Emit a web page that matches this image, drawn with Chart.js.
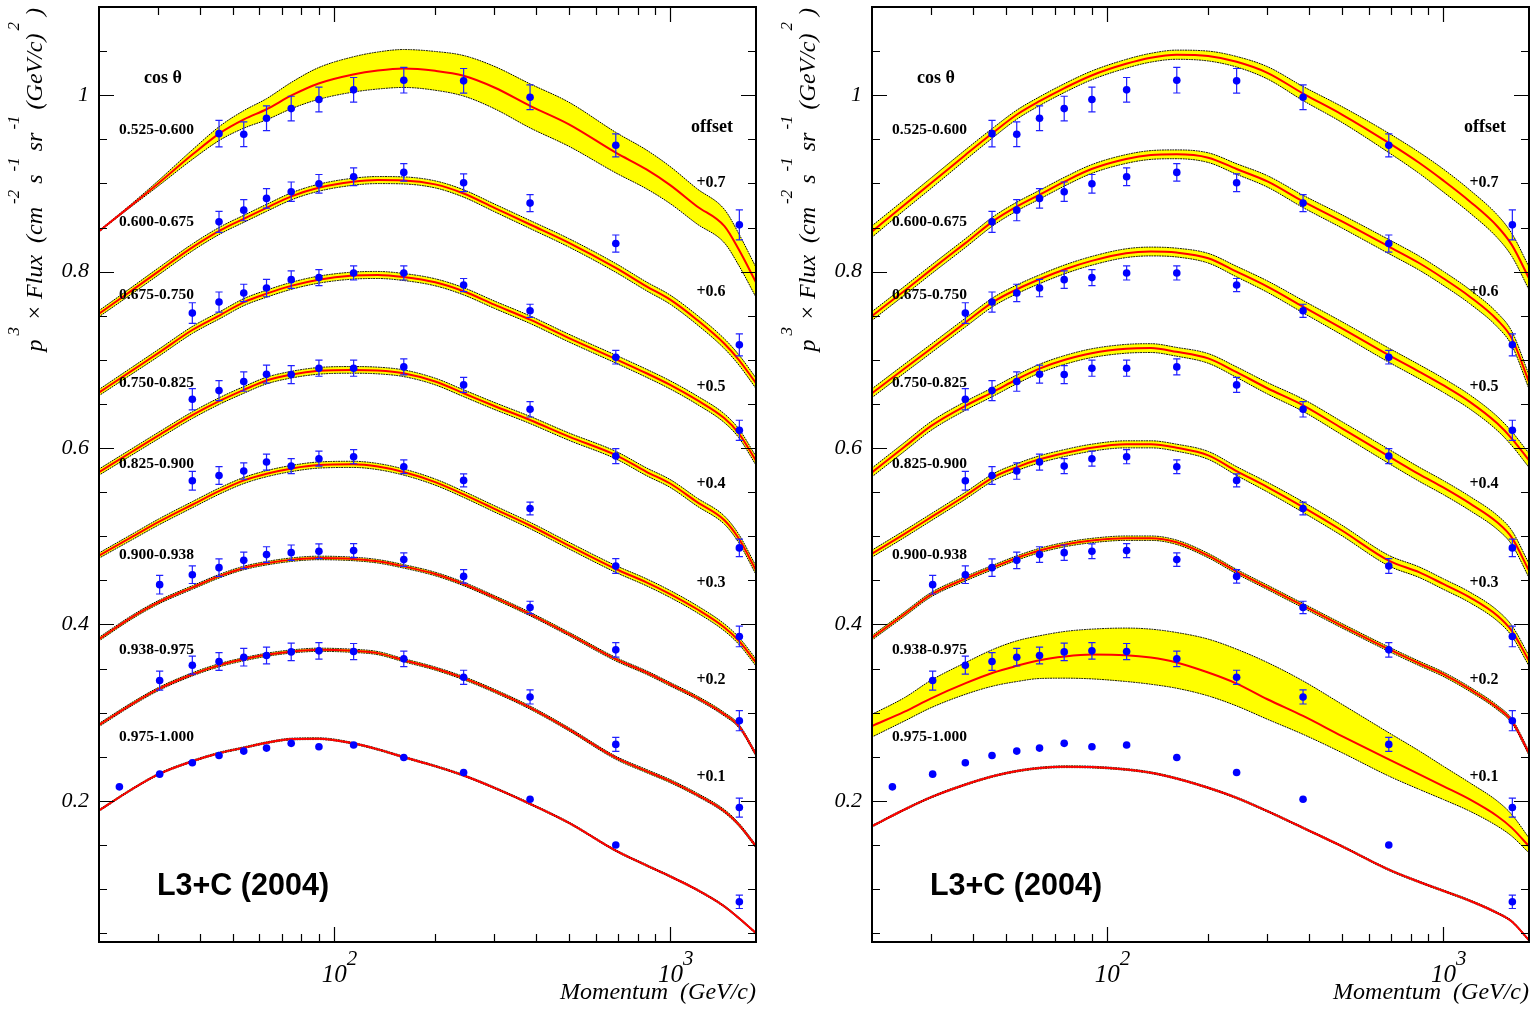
<!DOCTYPE html>
<html><head><meta charset="utf-8">
<script src="https://cdn.jsdelivr.net/npm/chart.js@4.4.1/dist/chart.umd.min.js"></script>
<style>
html,body{margin:0;padding:0;background:#fff;overflow:hidden;width:1539px;height:1010px;}
canvas{position:absolute;top:0;}
#cL{left:0;} #cR{left:773px;}
</style></head><body>
<canvas id="cL" width="770" height="1010"></canvas>
<canvas id="cR" width="766" height="1010"></canvas>
<script>
// ---------------- DATA ----------------
const cosBins = ['0.525-0.600','0.600-0.675','0.675-0.750','0.750-0.825','0.825-0.900','0.900-0.938','0.938-0.975','0.975-1.000'];
const offsetLabels = ['+0.7','+0.6','+0.5','+0.4','+0.3','+0.2','+0.1'];
const yTickValues = [0.2, 0.4, 0.6, 0.8, 1.0];
const yTickLabels = ['0.2', '0.4', '0.6', '0.8', '1'];
const xTickValues = [100, 1000];
const xTickBase = ['10', '10'];
const xTickExp = ['2', '3'];
const xMinorTicks = [30,40,50,60,70,80,90,200,300,400,500,600,700,800,900];
const xTitle = 'Momentum  (GeV/c)';
const tagText = 'L3+C (2004)';

// measured momenta (GeV/c)
const dataMomentum = [23.0, 30.3, 37.9, 45.5, 53.9, 63.0, 74.6, 90.2, 114.4, 161.3, 243, 383, 689, 1606];
// p^3 x flux + offset, per cos(theta) bin
const S1 = [null,null,null,0.9564,0.9557,0.9739,0.9848,0.9951,1.0061,1.0170,1.0163,0.9977,0.9432,0.8530];
const S2 = [null,null,null,0.8564,0.8697,0.8830,0.8906,0.8996,0.9076,0.9125,0.9008,0.8777,0.8318,0.7170];
const S3 = [null,null,0.7530,0.7655,0.7758,0.7814,0.7909,0.7932,0.7985,0.7985,0.7848,0.7556,0.7030,0.6201];
const S4 = [null,null,0.6553,0.6651,0.6754,0.6837,0.6833,0.6905,0.6905,0.6920,0.6716,0.6439,0.5909,0.4868];
const S5 = [null,null,0.5629,0.5689,0.5739,0.5841,0.5795,0.5879,0.5902,0.5788,0.5633,0.5314,0.4663,0.3864];
const S6 = [null,0.4451,0.4564,0.4644,0.4727,0.4792,0.4814,0.4830,0.4837,0.4735,0.4545,0.4193,0.3712,0.2909];
const S7 = [null,0.3364,0.3538,0.3580,0.3629,0.3648,0.3689,0.3701,0.3693,0.3610,0.3401,0.3178,0.2640,0.1924];
const S8 = [0.2159,0.2303,0.2432,0.2515,0.2564,0.2598,0.2652,0.2614,0.2633,0.2492,0.2322,0.2019,0.1500,0.0856];
// errors
const E1 = [null,null,null,0.015,0.014,0.014,0.014,0.014,0.014,0.0145,0.014,0.014,0.013,0.017];
const E2 = [null,null,null,0.012,0.012,0.011,0.011,0.0105,0.010,0.010,0.010,0.0097,0.0097,0.0125];
const E3 = [null,null,0.0117,0.0114,0.0099,0.0099,0.0099,0.0091,0.008,0.008,0.0074,0.0074,0.0077,0.0114];
const E4 = [null,null,0.012,0.0114,0.011,0.0102,0.0102,0.0091,0.0091,0.0091,0.0085,0.0087,0.0085,0.0099];
const E5 = [null,null,0.0106,0.010,0.0093,0.0091,0.0085,0.0085,0.008,0.0077,0.0074,0.0072,0.0083,0.0117];
const E6 = [null,0.0106,0.010,0.0099,0.0094,0.0089,0.0087,0.0083,0.008,0.0076,0.0076,0.007,0.0083,0.0114];
const E7 = [null,0.0108,0.0102,0.010,0.010,0.0094,0.0099,0.0093,0.0091,0.0087,0.008,0.008,0.008,0.0108];
const E8 = [0.002,0.002,0.002,0.002,0.002,0.002,0.002,0.002,0.002,0.002,0.002,0.002,0.0051,0.0076];

// model curves, sampled at these momenta
const momentumGrid = [20,25,30,38,46,54,63,75,90,114,135,161,200,243,300,383,500,689,850,1000,1200,1450,1600,1800];
// left panel model (central value)
const L1 = [0.8458,0.8754,0.9000,0.9330,0.9576,0.9727,0.9841,1.0000,1.0133,1.0235,1.0280,1.0303,1.0276,1.0220,1.0087,0.9879,0.9670,0.9349,0.9159,0.8981,0.8742,0.8515,0.8250,0.7879];
const L2 = [0.7523,0.7784,0.8000,0.8277,0.8470,0.8600,0.8723,0.8856,0.8951,0.9019,0.9038,0.9034,0.8989,0.8886,0.8723,0.8534,0.8326,0.8042,0.7833,0.7682,0.7455,0.7182,0.7000,0.6735];
const L3 = [0.6629,0.6875,0.7076,0.7341,0.7511,0.7655,0.7750,0.7841,0.7909,0.7955,0.7962,0.7939,0.7879,0.7777,0.7625,0.7455,0.7246,0.7008,0.6848,0.6716,0.6545,0.6337,0.6167,0.5856];
const L4 = [0.5727,0.5955,0.6140,0.6375,0.6540,0.6660,0.6765,0.6833,0.6875,0.6886,0.6879,0.6848,0.6754,0.6621,0.6477,0.6318,0.6129,0.5920,0.5731,0.5598,0.5390,0.5182,0.4974,0.4614];
const L5 = [0.4781,0.4989,0.5159,0.5360,0.5519,0.5633,0.5709,0.5769,0.5807,0.5815,0.5790,0.5728,0.5614,0.5475,0.5311,0.5122,0.4894,0.4629,0.4478,0.4345,0.4175,0.3966,0.3815,0.3569];
const L6 = [0.3834,0.4080,0.4250,0.4421,0.4553,0.4641,0.4694,0.4735,0.4754,0.4743,0.4716,0.4659,0.4572,0.4459,0.4307,0.4118,0.3891,0.3606,0.3455,0.3322,0.3171,0.2981,0.2849,0.2527];
const L7 = [0.2860,0.3095,0.3266,0.3436,0.3542,0.3606,0.3656,0.3694,0.3713,0.3701,0.3675,0.3595,0.3500,0.3391,0.3247,0.3057,0.2811,0.2489,0.2338,0.2224,0.2072,0.1883,0.1731,0.1485];
const L8 = [0.1891,0.2129,0.2300,0.2451,0.2546,0.2603,0.2659,0.2701,0.2705,0.2652,0.2584,0.2497,0.2394,0.2288,0.2148,0.1966,0.1750,0.1436,0.1269,0.1144,0.0993,0.0803,0.0671,0.0500];
// left panel model uncertainty (half width)
const L1w = [0.0008,0.0015,0.003,0.0055,0.008,0.010,0.012,0.015,0.018,0.020,0.021,0.0215,0.022,0.023,0.024,0.025,0.025,0.023,0.022,0.021,0.020,0.019,0.018,0.017];
const L2w = [0.0035,0.0038,0.004,0.004,0.004,0.004,0.004,0.004,0.004,0.004,0.004,0.004,0.004,0.0042,0.0044,0.0046,0.0048,0.005,0.005,0.0052,0.0054,0.0056,0.0058,0.006];
const L3w = [0.0035,0.0038,0.004,0.004,0.004,0.004,0.004,0.004,0.004,0.004,0.004,0.004,0.004,0.0041,0.0042,0.0043,0.0044,0.0045,0.0046,0.0047,0.0048,0.005,0.005,0.005];
const L4w = [0.0035,0.0036,0.0037,0.0038,0.0038,0.0038,0.0038,0.0038,0.0038,0.0038,0.0038,0.0038,0.0038,0.0039,0.004,0.0041,0.0042,0.0043,0.0044,0.0045,0.0046,0.0047,0.0048,0.0048];
const L5w = [0.003,0.0032,0.0034,0.0035,0.0035,0.0035,0.0035,0.0035,0.0035,0.0035,0.0035,0.0035,0.0035,0.0035,0.0036,0.0037,0.0038,0.0039,0.004,0.004,0.004,0.004,0.004,0.004];
const L6w = [0.002,0.002,0.002,0.002,0.002,0.002,0.002,0.002,0.002,0.002,0.002,0.002,0.002,0.002,0.002,0.002,0.002,0.002,0.002,0.002,0.002,0.002,0.002,0.002];
const L7w = [0.0018,0.0018,0.0018,0.0018,0.0018,0.0018,0.0018,0.0018,0.0018,0.0018,0.0018,0.0018,0.0018,0.0018,0.0018,0.0018,0.0018,0.0018,0.0018,0.0018,0.0018,0.0018,0.0018,0.0018];
const L8w = [0.001,0.001,0.001,0.001,0.001,0.001,0.001,0.001,0.001,0.001,0.001,0.001,0.001,0.001,0.001,0.001,0.001,0.001,0.001,0.001,0.001,0.001,0.001,0.001];
// right panel model (central value)
const R1 = [0.8455,0.8758,0.9004,0.9326,0.9580,0.9781,0.9932,1.0084,1.0224,1.0356,1.0425,1.0459,1.0444,1.0379,1.0254,1.0019,0.9781,0.9459,0.9231,0.9034,0.8796,0.8512,0.8303,0.7925];
const R2 = [0.7497,0.7784,0.8023,0.8326,0.8576,0.8739,0.8872,0.9023,0.9163,0.9277,0.9322,0.9330,0.9292,0.9163,0.9023,0.8796,0.8569,0.8284,0.8095,0.7925,0.7716,0.7451,0.7243,0.6750];
const R3 = [0.6622,0.6902,0.7129,0.7425,0.7659,0.7800,0.7913,0.8027,0.8122,0.8209,0.8228,0.8216,0.8152,0.8000,0.7830,0.7603,0.7357,0.7053,0.6864,0.6712,0.6523,0.6277,0.6107,0.5860];
const R4 = [0.5724,0.6014,0.6251,0.6480,0.6640,0.6780,0.6900,0.7000,0.7075,0.7125,0.7133,0.7091,0.7016,0.6860,0.6678,0.6485,0.6224,0.5906,0.5701,0.5553,0.5372,0.5156,0.4985,0.4610];
const R5 = [0.4803,0.5027,0.5216,0.5462,0.5671,0.5784,0.5872,0.5944,0.6004,0.6042,0.6042,0.6004,0.5917,0.5739,0.5557,0.5330,0.5065,0.4724,0.4591,0.4459,0.4307,0.4099,0.3928,0.3588];
const R6 = [0.3849,0.4118,0.4338,0.4520,0.4650,0.4754,0.4838,0.4906,0.4951,0.4978,0.4978,0.4932,0.4781,0.4599,0.4421,0.4213,0.3985,0.3720,0.3557,0.3436,0.3266,0.3057,0.2906,0.2542];
const R7 = [0.2849,0.3012,0.3163,0.3334,0.3455,0.3531,0.3595,0.3637,0.3659,0.3652,0.3625,0.3569,0.3455,0.3330,0.3152,0.2963,0.2735,0.2470,0.2300,0.2167,0.2016,0.1826,0.1694,0.1485];
const R8 = [0.1713,0.1902,0.2042,0.2186,0.2281,0.2338,0.2372,0.2387,0.2383,0.2356,0.2319,0.2254,0.2148,0.2034,0.1883,0.1694,0.1485,0.1220,0.1080,0.0981,0.0868,0.0728,0.0633,0.0420];
// right panel model uncertainty
const R1w = [0.0065,0.006,0.006,0.0058,0.0055,0.0052,0.005,0.005,0.005,0.005,0.005,0.0052,0.0056,0.006,0.007,0.008,0.009,0.011,0.012,0.013,0.013,0.013,0.013,0.013];
const R2w = [0.005,0.005,0.005,0.005,0.005,0.005,0.005,0.005,0.005,0.005,0.005,0.005,0.0055,0.006,0.0065,0.007,0.0075,0.008,0.008,0.008,0.008,0.008,0.008,0.008];
const R3w = [0.005,0.005,0.005,0.005,0.005,0.005,0.005,0.005,0.005,0.005,0.005,0.005,0.0055,0.006,0.0065,0.007,0.0075,0.008,0.008,0.008,0.008,0.008,0.008,0.008];
const R4w = [0.005,0.005,0.005,0.005,0.005,0.005,0.005,0.005,0.005,0.005,0.005,0.005,0.0055,0.006,0.0065,0.007,0.0075,0.008,0.008,0.008,0.008,0.008,0.008,0.008];
const R5w = [0.004,0.004,0.004,0.004,0.004,0.004,0.004,0.004,0.004,0.004,0.004,0.004,0.0045,0.005,0.0055,0.006,0.006,0.006,0.006,0.006,0.006,0.006,0.006,0.006];
const R6w = [0.0025,0.0025,0.0025,0.0025,0.0025,0.0025,0.0025,0.0025,0.0025,0.0025,0.0025,0.0025,0.0025,0.0025,0.0025,0.0025,0.0025,0.0025,0.0025,0.0025,0.0025,0.0025,0.0025,0.0025];
const R7hi = [0.2981,0.3171,0.3368,0.3569,0.3720,0.3815,0.3872,0.3921,0.3947,0.3959,0.3947,0.3909,0.3834,0.3720,0.3569,0.3360,0.3095,0.2773,0.2565,0.2394,0.2205,0.1997,0.1845,0.1580];
const R7lo = [0.2724,0.2906,0.3057,0.3209,0.3303,0.3353,0.3387,0.3391,0.3383,0.3353,0.3322,0.3277,0.3190,0.3076,0.2925,0.2754,0.2546,0.2281,0.2129,0.2016,0.1883,0.1713,0.1599,0.1409];
const R8w = [0.001,0.001,0.001,0.001,0.001,0.001,0.001,0.001,0.001,0.001,0.001,0.001,0.001,0.001,0.001,0.001,0.001,0.001,0.001,0.001,0.001,0.001,0.001,0.001];

// ---------------- STYLE / LAYOUT ----------------
const SERIF = '"Liberation Serif", "Times New Roman", serif';
const SANS = '"Liberation Sans", Arial, sans-serif';
const LAYOUT = {
  cos: {x: 144, y: 83},
  binX: 119, binY: [134, 225.5, 299, 387, 468, 559, 654, 740.5],
  offTitle: {x: 691, y: 132},
  offX: 696.5, offY: [187.2, 296.2, 390.5, 488.2, 587.2, 683.8, 780.5],
  tag: {x: 243, y: 895},
  yTitle: {baseX: 42, endY: 8, raise: 23}
};

Chart.defaults.color = '#000';

const dataSeries = [S1,S2,S3,S4,S5,S6,S7,S8];
const errSeries = [E1,E2,E3,E4,E5,E6,E7,E8];

function curve(arr) { return momentumGrid.map((p, i) => ({x: p, y: arr[i]})); }

function modelDatasets(mid, hi, lo) {
  const common = {pointRadius: 0, cubicInterpolationMode: 'monotone', borderCapStyle: 'round'};
  return [
    Object.assign({data: curve(hi), borderColor: '#000', borderWidth: 1, borderDash: [1, 1.6],
      fill: '+1', backgroundColor: '#ffff00', order: 3}, common),
    Object.assign({data: curve(lo), borderColor: '#000', borderWidth: 1, borderDash: [1, 1.6],
      fill: false, order: 3}, common),
    Object.assign({data: curve(mid), borderColor: '#ff0000', borderWidth: 2, fill: false, order: 2}, common)
  ];
}

function pointDatasets() {
  return dataSeries.map((s, k) => ({
    isData: true,
    data: dataMomentum.map((p, i) => s[i] == null ? null : {x: p, y: s[i], err: errSeries[k][i]}).filter(Boolean),
    showLine: false, pointRadius: 3.8, pointStyle: 'circle',
    pointBackgroundColor: '#0000ff', pointBorderColor: '#0000ff', pointBorderWidth: 0,
    order: 0
  }));
}

const errBarPlugin = {
  id: 'errbars',
  beforeDatasetDraw(chart, args) {
    const ds = chart.data.datasets[args.index];
    if (!ds.isData) return;
    const ctx = chart.ctx, xs = chart.scales.x, ys = chart.scales.y;
    ctx.save();
    ctx.strokeStyle = '#2020ff'; ctx.lineWidth = 1.2;
    ds.data.forEach(pt => {
      const px = xs.getPixelForValue(pt.x);
      const py = ys.getPixelForValue(pt.y);
      const t = ys.getPixelForValue(pt.y + pt.err);
      const b = ys.getPixelForValue(pt.y - pt.err);
      if (b - py < 4.5) return;
      ctx.beginPath();
      ctx.moveTo(px, t); ctx.lineTo(px, b);
      ctx.moveTo(px - 3.6, t); ctx.lineTo(px + 3.6, t);
      ctx.moveTo(px - 3.6, b); ctx.lineTo(px + 3.6, b);
      ctx.stroke();
    });
    ctx.restore();
  }
};

function drawRichVertical(ctx, segs) {
  const mainFont = 'italic 24px ' + SERIF, supFont = 'italic 17px ' + SERIF;
  let total = 0;
  const w = segs.map(s => { ctx.font = s.sup ? supFont : mainFont; const v = ctx.measureText(s.t).width + (s.pre || 0); total += v; return v; });
  ctx.save();
  ctx.translate(LAYOUT.yTitle.baseX, LAYOUT.yTitle.endY + total);
  ctx.rotate(-Math.PI / 2);
  ctx.fillStyle = '#000'; ctx.textBaseline = 'alphabetic'; ctx.textAlign = 'left';
  let x = 0;
  segs.forEach((s, i) => {
    ctx.font = s.sup ? supFont : mainFont;
    ctx.fillText(s.t, x + (s.pre || 0), s.sup ? -LAYOUT.yTitle.raise : 0);
    x += w[i];
  });
  ctx.restore();
}

const yTitleSegs = [
  {t: 'p'}, {t: '3', sup: true, pre: 4}, {t: ' × Flux  (cm'}, {t: '-2', sup: true, pre: 3},
  {t: ' s'}, {t: '-1', sup: true, pre: 3}, {t: ' sr'}, {t: '-1', sup: true, pre: 3},
  {t: ' (GeV/c)'}, {t: '2', sup: true, pre: 3}, {t: ' )'}
];

const framePlugin = {
  id: 'rootframe',
  afterDraw(chart) {
    const ctx = chart.ctx, a = chart.chartArea, xs = chart.scales.x, ys = chart.scales.y;
    ctx.save();
    // ticks
    ctx.strokeStyle = '#000'; ctx.lineWidth = 1.2;
    ctx.beginPath();
    for (let k = 1; k <= 22; k++) {
      const v = k * 0.05;
      const py = Math.round(ys.getPixelForValue(v)) + 0.5;
      if (py < a.top + 1 || py > a.bottom - 1) continue;
      const len = (k % 4 === 0) ? 15 : 8;
      ctx.moveTo(a.left, py); ctx.lineTo(a.left + len, py);
      ctx.moveTo(a.right, py); ctx.lineTo(a.right - len, py);
    }
    const xt = xMinorTicks.map(v => [v, 8]).concat(xTickValues.map(v => [v, 15]));
    xt.forEach(([v, len]) => {
      const px = Math.round(xs.getPixelForValue(v)) + 0.5;
      ctx.moveTo(px, a.bottom); ctx.lineTo(px, a.bottom - len);
      ctx.moveTo(px, a.top); ctx.lineTo(px, a.top + len);
    });
    ctx.stroke();
    // frame
    ctx.lineWidth = 2;
    ctx.strokeRect(a.left, a.top, a.right - a.left, a.bottom - a.top);
    // x tick labels (10^n)
    ctx.fillStyle = '#000'; ctx.textAlign = 'left'; ctx.textBaseline = 'alphabetic';
    xTickValues.forEach((v, i) => {
      const px = xs.getPixelForValue(v);
      ctx.font = 'italic 25px ' + SERIF;
      ctx.fillText(xTickBase[i], px - 12.3, 982);
      ctx.font = 'italic 21px ' + SERIF;
      ctx.fillText(xTickExp[i], px + 12.7, 965);
    });
    // y title
    drawRichVertical(ctx, yTitleSegs);
    // annotations
    ctx.font = 'bold 18px ' + SERIF;
    ctx.fillText('cos θ', LAYOUT.cos.x, LAYOUT.cos.y);
    ctx.fillText('offset', LAYOUT.offTitle.x, LAYOUT.offTitle.y);
    ctx.font = 'bold 15.5px ' + SERIF;
    cosBins.forEach((t, i) => ctx.fillText(t, LAYOUT.binX, LAYOUT.binY[i]));
    ctx.font = 'bold 16px ' + SERIF;
    offsetLabels.forEach((t, i) => ctx.fillText(t, LAYOUT.offX, LAYOUT.offY[i]));
    ctx.font = 'bold 30.5px ' + SANS;
    ctx.textAlign = 'center';
    ctx.fillText(tagText, LAYOUT.tag.x, LAYOUT.tag.y);
    ctx.restore();
  }
};

function makeChart(id, mids, his, los, padRight) {
  let datasets = [];
  mids.forEach((m, i) => { datasets = datasets.concat(modelDatasets(m, his[i], los[i])); });
  datasets = datasets.concat(pointDatasets());
  return new Chart(document.getElementById(id), {
    type: 'line',
    data: {datasets},
    options: {
      responsive: false, animation: false, devicePixelRatio: 1, events: [],
      layout: {padding: {top: 7, right: padRight, bottom: 0, left: 0}},
      plugins: {legend: {display: false}, tooltip: {enabled: false}, filler: {drawTime: 'beforeDatasetsDraw'}},
      scales: {
        x: {
          type: 'logarithmic', min: 20, max: 1800, bounds: 'data', position: 'bottom',
          grid: {display: false, drawTicks: false}, border: {display: false},
          ticks: {display: false},
          title: {display: true, text: xTitle, align: 'end', color: '#000',
                  font: {family: SERIF, size: 24, style: 'italic'}, padding: {top: 0, bottom: 2.6}},
          afterFit: s => { s.height = 68; s.paddingLeft = 0; s.paddingRight = 0; }
        },
        y: {
          type: 'linear', min: 0.04, max: 1.1, bounds: 'data', position: 'left',
          grid: {display: false, drawTicks: false}, border: {display: false},
          ticks: {autoSkip: false, padding: 10, color: '#000',
                  font: {family: SERIF, size: 22, style: 'italic'},
                  callback: (v, i) => yTickLabels[i]},
          afterBuildTicks: s => { s.ticks = yTickValues.map(v => ({value: v})); },
          afterFit: s => { s.width = 99; s.paddingTop = 0; s.paddingBottom = 0; }
        }
      }
    },
    plugins: [errBarPlugin, framePlugin]
  });
}

const add = (m, w) => m.map((v, i) => v + w[i]);
const sub = (m, w) => m.map((v, i) => v - w[i]);

const leftMid = [L1,L2,L3,L4,L5,L6,L7,L8];
const leftW = [L1w,L2w,L3w,L4w,L5w,L6w,L7w,L8w];
makeChart('cL', leftMid, leftMid.map((m,i)=>add(m,leftW[i])), leftMid.map((m,i)=>sub(m,leftW[i])), 14);

const rightMid = [R1,R2,R3,R4,R5,R6,R7,R8];
const rightHi = [add(R1,R1w), add(R2,R2w), add(R3,R3w), add(R4,R4w), add(R5,R5w), add(R6,R6w), R7hi, add(R8,R8w)];
const rightLo = [sub(R1,R1w), sub(R2,R2w), sub(R3,R3w), sub(R4,R4w), sub(R5,R5w), sub(R6,R6w), R7lo, sub(R8,R8w)];
makeChart('cR', rightMid, rightHi, rightLo, 10);
</script>
</body></html>
